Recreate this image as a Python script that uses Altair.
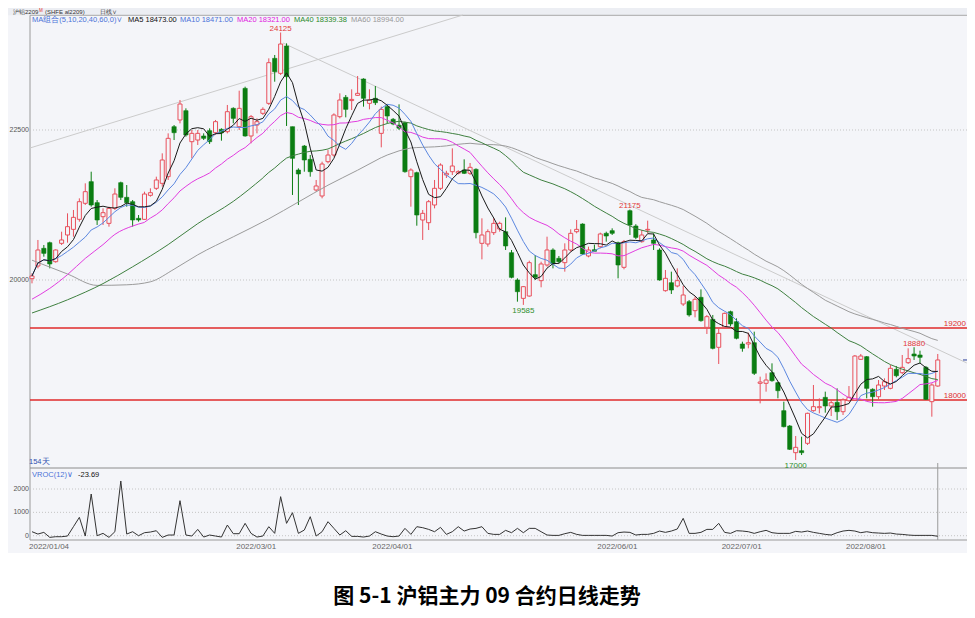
import altair as alt
import pandas as pd

# ---------------- data ----------------
opens = [20022, 20233, 20528, 20622, 20305, 20611, 20750, 20844, 21011, 21278,
         21639, 21289, 21055, 20944, 21194, 21622, 21378, 21305, 21028, 21011,
         21411, 21528, 21611, 21722, 22555, 22667, 22822, 22305, 22333, 22400,
         22489, 22455, 22511, 22472, 22861, 22555, 23194, 22400, 22583, 22778,
         22944, 23694, 23444, 23900, 22555, 21833, 22233, 22011, 21500, 21400,
         21972, 22083, 22722, 23044, 22990, 23078, 23350, 22944, 23028, 22444,
         22889, 22678, 22580, 22622, 21722, 21789, 21000, 20955, 21250, 21528,
         21750, 21805, 21780, 21833, 21778, 21844, 20611, 20600, 20789, 20850,
         20805, 20455, 20000, 19694, 19733, 20089, 19989, 20250, 20500, 20361,
         20289, 20500, 20805, 20933, 20400, 20505, 20555, 20778, 20822, 20622,
         20211, 21155, 20900, 20639, 20833, 20667, 20500, 19822, 19955, 19900,
         19600, 19639, 19489, 19711, 19211, 19344, 18878, 19211, 19472, 19305,
         18933, 18933, 18955, 18278, 18278, 18455, 18289, 17822, 17567, 17122,
         17155, 17278, 17822, 17872, 18044, 17900, 17961, 17805, 17989, 18000,
         18678, 18722, 18178, 18055, 18233, 18194, 18511, 18455, 18622, 18767,
         18750, 18544, 17972, 18233]
highs = [20111, 20667, 20583, 20639, 20511, 20805, 21111, 21167, 21361, 21611,
         21805, 21333, 21194, 21222, 21528, 21639, 21583, 21333, 21083, 21472,
         21528, 21722, 22111, 22444, 22583, 23000, 22861, 22500, 22500, 22444,
         22528, 22667, 22528, 22917, 22878, 23155, 23222, 22750, 22694, 22878,
         23694, 23750, 24125, 23944, 22555, 21861, 22250, 22083, 21667, 21972,
         22166, 22778, 23111, 23083, 23178, 23400, 23361, 23178, 23233, 22889,
         22928, 22700, 22928, 22639, 21861, 21805, 21167, 21333, 21667, 21944,
         21820, 22194, 21830, 22011, 21950, 21861, 21028, 20844, 21028, 20972,
         21044, 20500, 20028, 19900, 20322, 20416, 20305, 20722, 20528, 20400,
         20611, 20844, 21000, 20944, 20555, 20590, 20789, 20805, 20861, 20639,
         20667, 21175, 20930, 20833, 20989, 20778, 20528, 20167, 20139, 20194,
         19900, 19667, 19722, 19844, 19417, 19417, 19194, 19456, 19489, 19361,
         18972, 19122, 19139, 18389, 18444, 18611, 18305, 17972, 17583, 17400,
         17389, 17789, 18250, 18028, 18139, 18000, 18194, 18028, 18233, 18750,
         18767, 18733, 18194, 18333, 18361, 18583, 18567, 18750, 18861, 18880,
         18822, 18567, 18278, 18767]
lows = [19944, 20194, 20389, 20194, 20289, 20583, 20622, 20722, 20972, 21250,
        21222, 20917, 20917, 20889, 21167, 21333, 21222, 20889, 20972, 21000,
        21389, 21500, 21556, 21667, 22333, 22611, 22389, 22028, 22250, 22333,
        22267, 22417, 22322, 22444, 22611, 22500, 22389, 22278, 22444, 22750,
        22917, 23305, 23417, 22567, 21417, 21250, 21805, 21722, 21472, 21361,
        21944, 22055, 22694, 22711, 22833, 23067, 22889, 22844, 22916, 22211,
        22611, 22580, 22500, 21789, 21222, 20905, 20667, 20833, 21194, 21500,
        21700, 21750, 21760, 21766, 21750, 20694, 20344, 20555, 20750, 20805,
        20500, 20028, 19639, 19585, 19722, 20000, 19878, 20222, 20194, 20280,
        20139, 20472, 20778, 20417, 20378, 20490, 20528, 20639, 20750, 20028,
        20178, 20750, 20680, 20622, 20778, 20500, 19989, 19805, 19767, 19878,
        19567, 19389, 19378, 19305, 19100, 18844, 18600, 19194, 19233, 19011,
        18805, 18861, 18417, 17944, 18139, 18305, 18028, 17544, 17167, 17000,
        17083, 17250, 17805, 17778, 17789, 17733, 17667, 17750, 17972, 17989,
        18667, 18028, 17889, 18011, 18167, 18178, 18378, 18433, 18600, 18667,
        18611, 18000, 17722, 18222]
closes = [20067, 20500, 20444, 20267, 20500, 20667, 20889, 21044, 21305, 21472,
          21250, 21000, 21122, 21194, 21433, 21378, 21289, 21000, 21000, 21433,
          21455, 21667, 22000, 22361, 22455, 22933, 22417, 22444, 22444, 22361,
          22305, 22639, 22455, 22805, 22694, 22861, 22400, 22722, 22639, 22844,
          23622, 23472, 23933, 23389, 22028, 21767, 22000, 21805, 21567, 21933,
          22083, 22750, 23000, 22844, 23010, 23111, 23028, 23000, 22955, 22844,
          22733, 22600, 22530, 21805, 21833, 21083, 21111, 21305, 21528, 21916,
          21778, 21900, 21805, 21778, 21878, 20789, 20750, 20805, 20944, 20944,
          20567, 20044, 19805, 19889, 20289, 20044, 20267, 20500, 20267, 20305,
          20500, 20778, 20844, 20433, 20500, 20478, 20767, 20733, 20778, 20250,
          20639, 20917, 20710, 20750, 20844, 20611, 20000, 20028, 19833, 19989,
          19750, 19417, 19678, 19322, 19389, 18861, 19111, 19444, 19267, 19028,
          18861, 18955, 18444, 18300, 18333, 18322, 18155, 17555, 17178, 17211,
          17122, 17778, 17889, 17889, 17900, 17955, 17805, 18000, 18044, 18733,
          18733, 18194, 18055, 18250, 18305, 18528, 18405, 18544, 18689, 18733,
          18711, 18011, 18250, 18667]
vroc = [171, 71, 143, -71, -43, -43, -14, 386, 786, -14,
        1786, 0, 100, -71, 171, 2343, 71, 171, 0, 129,
        157, 214, -71, 29, 29, 1500, 29, -14, 271, -57,
        29, -14, -57, 457, 86, 86, 529, 100, -57, -14,
        386, 100, 1672, 529, 986, 100, 243, 814, -14, 171,
        600, 314, 29, 214, -29, -29, -57, -14, 171, 71,
        -14, -43, -14, 314, 57, 386, 343, 271, 171, 357,
        57, 171, 386, 200, 286, 314, 386, 100, 57, 57,
        229, 129, 314, 129, 314, 314, 171, 29, 14, 14,
        86, 143, 57, 14, 14, 14, 14, 14, -14, 129,
        157, 143, 29, 57, 57, 100, 200, 143, 200, 286,
        743, 100, 100, 143, 271, 271, 529, 143, 100, 214,
        200, 171, 100, 171, 229, 129, 100, 100, 100, 186,
        157, 200, 143, 100, 57, 29, 129, 200, 229, 200,
        129, 171, 129, 114, 100, 114, 71, 57, 29, 14,
        14, 14, 14, -24]

# early parts of the long moving averages
ma20_head_i = [0, 3, 6, 9, 12, 14, 17, 19]
ma20_head_v = [19680, 19860, 20090, 20360, 20590, 20760, 20900, 20960]
ma40_head_i = [0, 6, 12, 17, 23, 28, 34, 39]
ma40_head_v = [19450, 19670, 19940, 20220, 20590, 20940, 21310, 21700]
ma60_head_i = [0, 6, 11, 16, 20, 24, 28, 34, 40, 45, 50, 55, 59]
ma60_head_v = [20330, 20100, 19910, 19920, 19970, 20180, 20420, 20720, 21020,
               21300, 21580, 21830, 22040]

# drawn trend lines (index, price)
trend_up_i = [-0.34, 72.8]
trend_up_v = [22200, 24417]
trend_dn_i = [42.4, 157.9]
trend_dn_v = [23950, 18617]

date_idx = [0, 35, 58, 96, 117, 138]
date_txt = ["2022/01/04", "2022/03/01", "2022/04/01", "2022/06/01", "2022/07/01", "2022/08/01"]
price_ticks = [22500, 20000]
vroc_ticks = [2000, 1000, 0]
levels = [19200, 18000]
peak_idx = [42, 101, 149]
peak_val = [24125, 21175, 18880]
trough_idx = [83, 129]
trough_val = [19585, 17000]

legend_txt = ["MA组合(5,10,20,40,60,0)∨", "MA5 18473.00", "MA10 18471.00",
              "MA20 18321.00", "MA40 18339.38", "MA60 18994.00"]

# ---------------- styling / layout ----------------
W, H = 959, 600
OFF = 8  # page margin: page px = chart px + 8
FONT = "Liberation Sans"
CJK = "Noto Sans CJK SC"
BG = "#f4f5f9"
UP = "#e8505c"
DN = "#0b7d12"
C_MA5, C_MA10, C_MA20, C_MA40, C_MA60 = "#1a1a1a", "#5b87e0", "#e23de0", "#3f8040", "#9b9b9b"
legend_col = ["#4a72d8", "#111111", "#4a72d8", "#e020e0", "#2a8a2a", "#999999"]
legend_px = [32, 128, 180, 237, 294, 351]


def P(v):
    return v - OFF


X = alt.Scale(domain=[-4.054, 157.94], nice=False, zero=False)
YP = alt.Scale(domain=[14533.3, 24533.3], nice=False, zero=False)
YV = alt.Scale(domain=[-3096, 22599], nice=False, zero=False)


def xq(f):
    return alt.X(f, type="quantitative", scale=X, axis=None)


def yp(f):
    return alt.Y(f, type="quantitative", scale=YP, axis=None)


def yv(f):
    return alt.Y(f, type="quantitative", scale=YV, axis=None)


one = pd.DataFrame({"k": [0]})


def label(text, px, py, color, size=7.5, align="left", weight="normal", baseline="middle", font=FONT):
    return alt.Chart(pd.DataFrame({"t": [text]})).mark_text(
        align=align, baseline=baseline, color=color, fontSize=size, font=font, fontWeight=weight
    ).encode(x=alt.value(P(px)), y=alt.value(P(py)), text="t:N")


def hline(py, px0, px1, color, width=1.0):
    return alt.Chart(one).mark_rule(color=color, strokeWidth=width).encode(
        x=alt.value(P(px0)), x2=alt.value(min(P(px1), W)), y=alt.value(P(py)))


def vline(px, py0, py1, color, width=1.0):
    return alt.Chart(one).mark_rule(color=color, strokeWidth=width).encode(
        x=alt.value(P(px)), y=alt.value(P(py0)), y2=alt.value(P(py1)))


# ---------------- background / frame ----------------
bg = alt.Chart(one).mark_rect(fill=BG).encode(
    x=alt.value(0), x2=alt.value(W), y=alt.value(0), y2=alt.value(P(553)))
bar_bg = alt.Chart(one).mark_rect(fill="#eceef3").encode(
    x=alt.value(0), x2=alt.value(W), y=alt.value(0), y2=alt.value(P(15.3)))

frame = [
    hline(15.3, 30, 975, "#a8a8a8"),
    vline(30, 15.3, 540, "#9a9a9a"),
    hline(468, 30, 975, "#8c8c8c"),
    hline(540, 30, 975, "#9a9a9a"),
]

# ---------------- price panel ----------------
df = pd.DataFrame({"i": list(range(len(closes))), "open": opens, "high": highs,
                   "low": lows, "close": closes})
base = alt.Chart(df)
up = base.transform_filter("datum.close >= datum.open")
dn = base.transform_filter("datum.close < datum.open")

wick_up = up.mark_rule(color=UP, strokeWidth=1).encode(x=xq("i"), y=yp("low"), y2="high:Q")
wick_dn = dn.mark_rule(color=DN, strokeWidth=1).encode(x=xq("i"), y=yp("low"), y2="high:Q")
body_up = up.transform_calculate(xl="datum.i - 0.34", xr="datum.i + 0.34").mark_rect(
    fill=BG, stroke=UP, strokeWidth=1).encode(x=xq("xl"), x2="xr:Q", y=yp("open"), y2="close:Q")
body_dn = dn.transform_calculate(xl="datum.i - 0.36", xr="datum.i + 0.36").mark_rect(
    fill=DN, stroke=DN, strokeWidth=0.6).encode(x=xq("xl"), x2="xr:Q", y=yp("open"), y2="close:Q")


def ma_line(n, color, start):
    c = base.transform_window(ma="mean(close)", frame=[-(n - 1), 0],
                              sort=[alt.SortField("i", order="ascending")])
    if start > 0:
        c = c.transform_filter(f"datum.i >= {start}")
    return c.mark_line(color=color, strokeWidth=1).encode(x=xq("i"), y=yp("ma"))


def head_line(ii, vv, color):
    return alt.Chart(pd.DataFrame({"i": ii, "v": vv})).mark_line(
        color=color, strokeWidth=1, interpolate="monotone").encode(x=xq("i"), y=yp("v"))


def trend(ii, vv):
    return alt.Chart(pd.DataFrame({"i": ii, "v": vv})).mark_line(
        color="#cbcbcb", strokeWidth=1).encode(x=xq("i"), y=yp("v"))


grid_p = alt.Chart(pd.DataFrame({"v": price_ticks, "t": [str(t) for t in price_ticks]}))
grid_p_rule = grid_p.mark_rule(color="#c4c4c4", strokeDash=[1, 2]).encode(
    y=yp("v"), x=alt.value(P(30)), x2=alt.value(W))
grid_p_lab = grid_p.mark_text(align="right", baseline="middle", fontSize=7, font=FONT,
                              color="#555555").encode(y=yp("v"), x=alt.value(P(29)), text="t:N")

lv = alt.Chart(pd.DataFrame({"v": levels, "t": [str(t) for t in levels]}))
lv_rule = lv.mark_rule(color="#e02a2a", strokeWidth=1.3).encode(
    y=yp("v"), x=alt.value(P(30)), x2=alt.value(W))
lv_lab = lv.mark_text(align="right", baseline="alphabetic", dy=-2, fontSize=8, font=FONT,
                      color="#e03030").encode(y=yp("v"), x=alt.value(W - 1), text="t:N")

pk = alt.Chart(pd.DataFrame({"i": peak_idx, "v": peak_val, "t": [str(v) for v in peak_val]}))
pk_lab = pk.mark_text(align="center", baseline="alphabetic", dy=-1, fontSize=8, font=FONT,
                      color="#e23a3a").encode(x=xq("i"), y=yp("v"), text="t:N")
tr = alt.Chart(pd.DataFrame({"i": trough_idx, "v": trough_val, "t": [str(v) for v in trough_val]}))
tr_lab = tr.mark_text(align="center", baseline="top", dy=2, fontSize=8, font=FONT,
                      color="#2f8f2f").encode(x=xq("i"), y=yp("v"), text="t:N")

last = alt.Chart(pd.DataFrame({"i": [len(closes) - 1], "v": [closes[-1]]}))
last_mark = last.mark_rule(color="#2a3f9a", strokeWidth=1).encode(
    y=yp("v"), x=alt.value(P(963)), x2=alt.value(W))
last_bar = last.mark_rule(color="#9a9a9a", strokeWidth=1).encode(
    x=xq("i"), y=alt.value(P(463)), y2=alt.value(P(540)))

dates = alt.Chart(pd.DataFrame({"i": date_idx, "t": date_txt})).mark_text(
    align="left", baseline="middle", dx=-3, fontSize=8, font=FONT, color="#666666").encode(
    x=xq("i"), y=alt.value(P(547)), text="t:N")

price_layer = alt.layer(
    grid_p_rule, grid_p_lab,
    trend(trend_up_i, trend_up_v), trend(trend_dn_i, trend_dn_v),
    lv_rule,
    wick_up, wick_dn, body_up, body_dn,
    head_line(ma60_head_i, ma60_head_v, C_MA60), ma_line(60, C_MA60, 59),
    head_line(ma40_head_i, ma40_head_v, C_MA40), ma_line(40, C_MA40, 39),
    head_line(ma20_head_i, ma20_head_v, C_MA20), ma_line(20, C_MA20, 19),
    ma_line(10, C_MA10, 0), ma_line(5, C_MA5, 0),
    lv_lab, pk_lab, tr_lab, last_mark, last_bar, dates,
)

# ---------------- VROC panel ----------------
dv = pd.DataFrame({"i": list(range(len(vroc))), "v": vroc})
gv = alt.Chart(pd.DataFrame({"v": vroc_ticks, "t": [str(t) for t in vroc_ticks]}))
gv_rule = gv.mark_rule(color="#c4c4c4", strokeDash=[1, 2]).encode(
    y=yv("v"), x=alt.value(P(30)), x2=alt.value(W))
gv_lab = gv.mark_text(align="right", baseline="middle", fontSize=7, font=FONT,
                      color="#555555").encode(y=yv("v"), x=alt.value(P(29)), text="t:N")
vroc_line = alt.Chart(dv).mark_line(color="#333333", strokeWidth=1).encode(x=xq("i"), y=yv("v"))
vroc_layer = alt.layer(gv_rule, gv_lab, vroc_line)

# ---------------- texts ----------------
texts = [
    label("沪铝2209", 13, 11.8, "#333333", size=6),
    label("M", 39, 10.5, "#e03030", size=4.5),
    label("(SHFE  al2209)", 45, 11.8, "#333333", size=6),
    label("日线∨", 100, 11.8, "#333333", size=6),
    label("154天", 29, 462, "#3050b0", size=7.5),
    label("VROC(12)∨", 32, 475, "#4a72d8", size=7.5),
    label("-23.69", 78, 475, "#111111", size=7.5),
    label("图 5-1 沪铝主力 09 合约日线走势", 487, 597, "#000000", size=21, align="center",
          weight="bold", font=CJK),
]
for t, px, col in zip(legend_txt, legend_px, legend_col):
    texts.append(label(t, px, 19.8, col, size=7.5))

chart = alt.layer(
    bg, bar_bg, *frame, price_layer, vroc_layer, *texts
).resolve_scale(y="independent").properties(
    width=W, height=H, padding={"left": 0, "top": 0, "right": 0, "bottom": 0},
    autosize=alt.AutoSizeParams(type="none"), background="white"
).configure_view(stroke=None)

chart.save("out.html", embed_options={"renderer": "svg", "actions": False})
